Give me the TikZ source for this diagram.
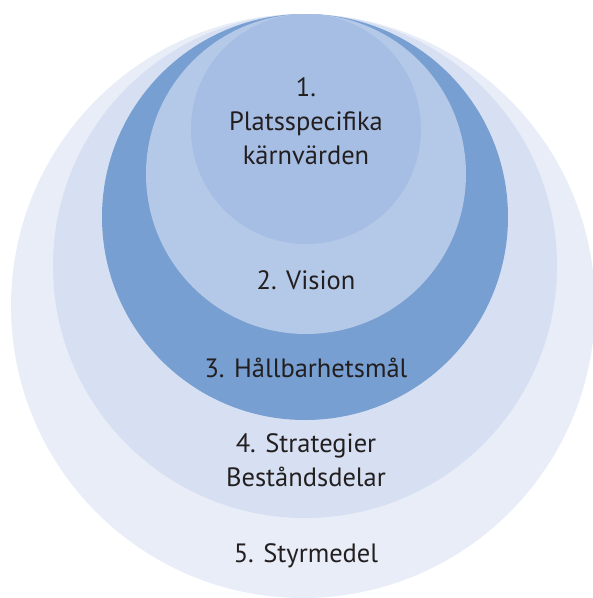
\documentclass[tikz,border=0pt]{standalone}
\usepackage{fontspec}
\setmainfont{PT Sans}
\definecolor{cA}{HTML}{E8EDF7}
\definecolor{cB}{HTML}{D7E0F2}
\definecolor{cC}{HTML}{779FD2}
\definecolor{cD}{HTML}{B4C8E8}
\definecolor{cE}{HTML}{A6BEE3}
\definecolor{txt}{HTML}{231F20}
\begin{document}
\begin{tikzpicture}[x=1pt,y=-1pt,
  ring/.style={circle,draw=none,inner sep=0pt,minimum size=#1},
  lbl/.style={text=txt,font=\fontsize{26.5}{34}\selectfont,align=center}]
\useasboundingbox (0,0) rectangle (593,598);
\node[ring=584pt,fill=cA] (c5) at (303,306) {};
\node[ring=504pt,fill=cB] (c4) at (305,266) {};
\node[ring=406pt,fill=cC] (c3) at (305,217) {};
\node[ring=320pt,fill=cD] (c2) at (306,174) {};
\node[ring=230pt,fill=cE] (c1) at (306,129) {};
\node[lbl] (t1) at (306,121) {1.\\Platsspecifika\\kärnvärden};
\node[lbl] (t2) at (306,280) {2. Vision};
\node[lbl] (t3) at (306,368) {3. Hållbarhetsmål};
\node[lbl] (t4) at (306,460) {4. Strategier\\Beståndsdelar};
\node[lbl] (t5) at (306,556) {5. Styrmedel};
\end{tikzpicture}
\end{document}
